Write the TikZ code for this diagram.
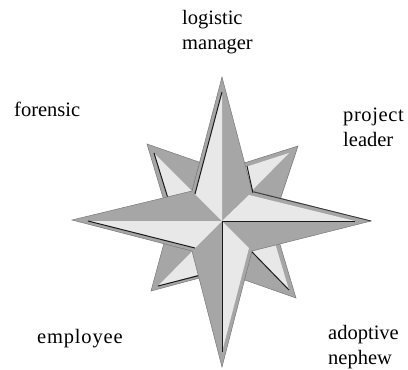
\documentclass[tikz,border=0pt]{standalone}
\usepackage{fontspec}
\setmainfont{Liberation Serif}
\definecolor{rosegray}{RGB}{166,166,166}
\definecolor{roselight}{RGB}{232,232,232}
\definecolor{roseedge}{RGB}{120,120,120}
\definecolor{roseshadow}{RGB}{25,25,25}
\tikzset{
  silh/.style={fill=rosegray, draw=roseedge, line width=0.5pt, line join=miter},
  lite/.style={fill=roselight},
  shadeline/.style={draw=roseshadow, line width=1pt},
  edgeline/.style={draw=roseshadow!80!rosegray, line width=0.8pt},
  lbl/.style={font=\fontsize{20.5}{24.5}\selectfont, inner sep=0pt, align=left, anchor=base west}
}
\begin{document}
\begin{tikzpicture}[x=1pt,y=-1pt]
\useasboundingbox (0,0) rectangle (408,370);
\fill[white] (0,0) rectangle (408,370);
\coordinate (C) at (222,221);
% diagonal star
\filldraw[silh] (147,144) -- (222,170) -- (298,146) -- (273,221) -- (296,298) -- (222,272) -- (151,291) -- (170,221) -- cycle;
\fill[lite] (154,153) -- (C) -- (175,221) -- cycle;
\fill[lite] (289,153) -- (C) -- (224,174) -- cycle;
\fill[lite] (158,286) -- (C) -- (222,268) -- cycle;
\fill[lite] (289,290) -- (C) -- (269,223) -- cycle;
\draw[shadeline] (154,153) -- (175,221);
\draw[shadeline] (158,286) -- (205,274);
\draw[shadeline] (289,290) -- (C);
% main star
\filldraw[silh] (222,77) -- (252,191) -- (371,221) -- (252,251) -- (222,367) -- (192,251) -- (72,220) -- (192,191) -- cycle;
\fill[lite] (222,92) -- (C) -- (195,194) -- cycle;
\fill[lite] (355,221) -- (C) -- (249,195) -- cycle;
\fill[lite] (222,352) -- (C) -- (249,248) -- cycle;
\fill[lite] (88,221) -- (C) -- (195,248) -- cycle;
\draw[shadeline] (222,92) -- (195,194);
\draw[shadeline] (C) -- (355,221);
\draw[shadeline] (C) -- (222,352);
\draw[shadeline] (88,221) -- (195,248);
\draw[shadeline] (247,166) -- (253,193);
\draw[edgeline] (254,192) -- (371,221);
% labels
\node[lbl] (lm) at (182,49) {logistic\\manager};
\node[lbl] (fo) at (14,116) {forensic};
\node[lbl] (pl) at (343,146) {\addfontfeature{LetterSpace=3}project\\leader};
\node[lbl] (em) at (37,343) {\addfontfeature{LetterSpace=4}employee};
\node[lbl] (an) at (328,364) {adoptive\\nephew};
\end{tikzpicture}
\end{document}
